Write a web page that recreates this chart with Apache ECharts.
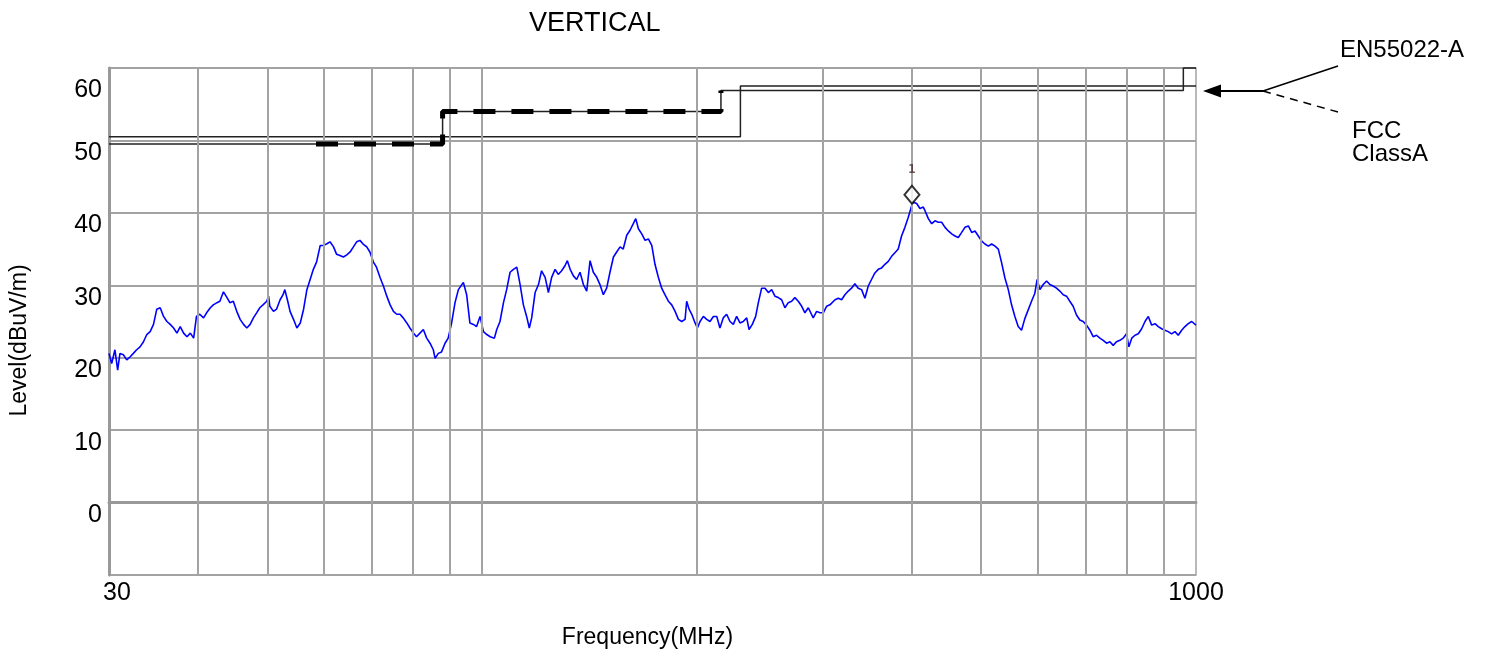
<!DOCTYPE html>
<html>
<head>
<meta charset="utf-8">
<script src="https://cdn.jsdelivr.net/npm/echarts@6/dist/echarts.min.js"></script>
<style>
html,body{margin:0;padding:0;background:#fff;}
#chart{width:1486px;height:649px;}
</style>
</head>
<body>
<div id="chart"></div>
<script>
// ---------- data ----------
const chartTitle = 'VERTICAL';
const xAxisName = 'Frequency(MHz)';
const yAxisName = 'Level(dBuV/m)';

const xTickValues = [30, 1000];
const xTickLabels = ['30', '1000'];
const xGridFreqs = [40, 50, 60, 70, 80, 90, 100, 200, 300, 400, 500, 600, 700, 800, 900];
const yMin = -10, yMax = 60, yStep = 10;
const yTickLabels = ['0', '10', '20', '30', '40', '50', '60'];

// measured trace (frequency MHz / level dBuV/m)
const traceFreq = [
  30.0, 30.26, 30.58, 30.85, 31.08, 31.42, 31.77, 32.1, 32.45, 32.8, 33.16, 33.53, 33.89, 34.26, 34.63,
  35.0, 35.39, 35.77, 36.16, 36.55, 36.95, 37.35, 37.75, 38.16, 38.58, 39.0, 39.42, 39.78, 40.2, 40.7,
  41.1, 41.6, 42.0, 42.5, 42.9, 43.4, 43.9, 44.3, 44.8, 45.3, 45.8, 46.3, 46.8, 47.3, 47.8,
  48.3, 48.8, 49.3, 49.9, 50.2, 50.4, 51.0, 51.5, 52.1, 52.6, 52.9, 53.4, 53.8, 54.4, 55.0,
  55.6, 56.2, 56.8, 57.4, 58.0, 58.6, 59.3, 59.9, 60.5, 61.2, 61.9, 62.5, 63.2, 63.9, 64.6,
  65.3, 66.0, 66.7, 67.4, 68.1, 68.9, 69.6, 70.4, 71.1, 71.9, 72.7, 73.5, 74.3, 75.1, 75.9,
  76.7, 77.5, 78.4, 79.2, 80.1, 80.9, 81.8, 82.7, 83.6, 84.5, 85.4, 85.9, 86.8, 87.7, 88.7,
  89.6, 90.6, 91.6, 92.6, 94.1, 95.1, 96.1, 97.2, 98.2, 99.3, 100.4, 101.5, 102.6, 104.0, 104.8,
  105.9, 107.1, 108.2, 109.4, 110.6, 111.8, 113.0, 114.2, 115.4, 116.4, 117.3, 118.6, 119.9, 121.1, 122.5,
  123.8, 125.1, 126.5, 127.8, 129.2, 130.6, 131.6, 132.8, 134.2, 135.6, 137.1, 138.6, 140.1, 141.6, 143.1,
  144.7, 146.2, 147.8, 149.4, 151.0, 152.7, 154.3, 156.0, 157.6, 159.4, 161.1, 162.8, 164.1, 165.5, 167.3,
  169.1, 170.9, 172.8, 174.6, 176.5, 178.4, 180.3, 182.3, 184.3, 186.3, 188.3, 190.3, 192.4, 193.4, 194.9,
  196.6, 198.7, 200.2, 201.9, 204.1, 206.3, 208.5, 210.8, 213.1, 215.3, 217.6, 220.0, 222.4, 224.8, 227.2,
  229.7, 232.1, 234.7, 236.5, 239.0, 241.6, 243.7, 246.3, 249.0, 251.7, 254.4, 257.1, 259.9, 262.7, 265.5,
  268.4, 271.3, 274.2, 277.2, 280.3, 283.2, 286.3, 290.9, 294.1, 297.3, 300.5, 303.7, 307.0, 312.1, 315.4,
  318.8, 322.2, 325.7, 329.2, 332.7, 336.3, 340.0, 343.7, 347.4, 351.1, 354.9, 358.8, 362.7, 366.6, 370.6,
  374.6, 378.6, 382.7, 386.8, 391.0, 395.3, 399.6, 401.7, 406.1, 410.5, 414.9, 417.2, 421.7, 426.3, 430.9,
  435.5, 440.2, 445.0, 449.8, 454.7, 459.6, 464.5, 469.6, 474.6, 479.8, 485.0, 490.2, 495.5, 500.9, 506.2,
  511.7, 517.3, 522.9, 528.5, 534.2, 539.9, 545.8, 551.6, 557.5, 563.5, 569.6, 575.7, 582.0, 588.3, 594.6,
  599.0, 604.4, 610.9, 617.5, 624.1, 630.8, 637.6, 644.5, 651.5, 658.6, 665.6, 672.8, 680.1, 687.5, 694.9,
  702.5, 710.1, 717.7, 725.5, 733.4, 741.3, 749.4, 757.5, 765.6, 773.8, 782.3, 790.6, 799.2, 805.3, 812.8,
  821.4, 830.2, 839.2, 848.3, 857.4, 866.7, 876.2, 885.4, 895.0, 904.7, 914.3, 924.3, 934.4, 944.4, 954.8,
  965.0, 975.4, 986.2, 1000
];
const traceLevel = [
  20.6, 19.2, 21.1, 18.3, 20.6, 20.4, 19.7, 20.1, 20.6, 21.1, 21.5, 22.2, 23.2, 23.6, 24.6,
  26.7, 26.9, 25.7, 25.0, 24.6, 24.1, 23.4, 24.3, 23.4, 22.9, 23.4, 22.7, 25.7, 26.0, 25.5,
  26.2, 26.9, 27.3, 27.6, 27.8, 29.1, 28.3, 27.6, 27.8, 26.4, 25.3, 24.6, 24.1, 24.6, 25.5,
  26.2, 26.9, 27.3, 27.8, 28.5, 27.1, 26.4, 26.7, 28.0, 28.7, 29.4, 27.8, 26.4, 25.3, 24.1,
  24.8, 26.7, 29.4, 30.8, 32.2, 33.2, 35.5, 35.5, 35.7, 36.0, 35.3, 34.3, 34.1, 33.9, 34.2,
  34.6, 35.3, 36.0, 36.2, 35.7, 35.3, 34.6, 33.2, 32.5, 31.1, 29.9, 28.5, 27.3, 26.4, 26.0,
  26.0, 25.5, 24.8, 24.1, 23.4, 22.9, 23.4, 23.9, 22.7, 22.0, 21.1, 19.9, 20.6, 20.8, 22.0,
  22.7, 24.8, 27.6, 29.4, 30.4, 28.7, 24.8, 24.6, 24.3, 25.7, 23.6, 23.2, 22.9, 22.7, 23.9,
  25.0, 27.6, 29.4, 31.8, 32.2, 32.5, 30.1, 27.3, 25.7, 24.1, 25.5, 29.0, 30.1, 32.0, 31.1,
  29.0, 31.1, 32.2, 31.5, 32.0, 32.7, 33.4, 32.2, 31.3, 30.8, 31.8, 30.1, 29.2, 33.4, 31.8,
  31.1, 30.1, 28.7, 29.6, 31.8, 33.9, 34.6, 35.3, 35.0, 36.9, 37.6, 38.5, 39.2, 37.8, 37.1,
  36.2, 36.4, 35.5, 32.9, 31.1, 29.6, 28.7, 27.8, 27.3, 26.4, 25.3, 25.0, 25.3, 27.8, 26.7,
  26.0, 24.8, 24.1, 25.0, 25.7, 25.3, 25.0, 25.7, 25.7, 24.1, 25.5, 26.0, 25.0, 24.6, 25.7,
  24.8, 25.0, 25.5, 23.9, 24.6, 25.7, 27.6, 29.6, 29.6, 29.0, 29.4, 28.5, 28.3, 28.0, 26.9,
  27.6, 27.8, 28.3, 27.8, 27.1, 26.2, 26.9, 25.5, 26.4, 26.2, 26.2, 27.1, 27.3, 28.0, 28.2,
  28.0, 28.7, 29.2, 29.6, 30.2, 29.6, 29.4, 28.2, 29.9, 30.8, 31.7, 32.2, 32.4, 32.9, 33.3,
  34.0, 34.5, 35.0, 36.8, 38.0, 39.4, 41.0, 41.5, 41.3, 40.6, 40.8, 40.3, 39.2, 38.5, 38.9,
  38.7, 38.7, 38.0, 37.5, 37.1, 36.8, 36.6, 37.3, 38.0, 38.2, 37.3, 37.5, 36.8, 36.1, 35.7,
  35.4, 35.7, 35.4, 35.0, 33.1, 31.0, 29.4, 27.3, 25.7, 24.3, 23.8, 25.4, 26.6, 27.8, 28.9,
  30.8, 29.4, 30.1, 30.6, 30.1, 29.9, 29.6, 29.2, 28.7, 28.5, 27.8, 27.1, 25.9, 25.2, 25.0,
  24.5, 23.8, 22.9, 23.1, 22.7, 22.4, 22.0, 22.2, 21.7, 22.2, 22.4, 22.7, 23.3, 21.5, 22.7,
  23.1, 23.3, 24.0, 25.0, 25.7, 24.5, 24.7, 24.3, 24.0, 23.8, 23.6, 23.3, 23.6, 23.1, 23.8,
  24.3, 24.7, 25.0, 24.5
];

// limit lines
const enName = 'EN55022-A';
const enFreq = [30, 230, 230, 1000];
const enLevel = [50.5, 50.5, 57.5, 57.5];
const fccName = 'FCC ClassA';
const fccFreq = [30, 88, 88, 216, 216, 960, 960, 1000];
const fccLevel = [49.5, 49.5, 54, 54, 56.9, 56.9, 60, 60];
const fccDashFreq = [58.5, 88, 88, 216, 216];
const fccDashLevel = [49.5, 49.5, 54, 54, 56.9];

// marker
const markerFreq = [400];
const markerLevel = [42.5];
const markerLabel = ['1'];

// ---------- chart ----------
const zip = (a, b) => a.map((v, i) => [v, b[i]]);
const FONT = 'Arial, "Liberation Sans", sans-serif';
const GRID_COLOR = '#a3a3a3';

const chart = echarts.init(document.getElementById('chart'), null, {renderer: 'canvas'});
chart.setOption({
  animation: false,
  backgroundColor: '#fff',
  textStyle: {fontFamily: FONT},
  title: {
    text: chartTitle, left: 524, top: 5,
    textStyle: {fontSize: 27, fontWeight: 'normal', color: '#000', fontFamily: FONT}
  },
  grid: {
    left: 109, right: 290, top: 68, bottom: 74, show: true,
    borderColor: GRID_COLOR, borderWidth: 1.5, containLabel: false, outerBoundsMode: 'none'
  },
  xAxis: {
    type: 'log', logBase: 10, min: 30, max: 1000,
    name: xAxisName, nameLocation: 'middle', nameGap: 51,
    nameTextStyle: {fontSize: 23, color: '#000', fontFamily: FONT, padding: [0, 10, 0, 0]},
    axisLine: {show: true, lineStyle: {color: '#999', width: 3}},
    axisTick: {show: false},
    splitLine: {show: false},
    axisLabel: {
      fontSize: 25, color: '#000', margin: 6, fontFamily: FONT,
      showMinLabel: true, showMaxLabel: true,
      formatter: function (v) {
        const i = xTickValues.indexOf(Math.round(v));
        if (i < 0) return '';
        return i === 0 ? '{s|' + xTickLabels[i] + '}' : xTickLabels[i];
      },
      rich: {s: {fontSize: 25, color: '#000', fontFamily: FONT, padding: [0, 0, 0, 16]}}
    }
  },
  yAxis: {
    type: 'value', min: yMin, max: yMax, interval: yStep,
    name: yAxisName, nameLocation: 'middle', nameGap: 78, nameRotate: 90,
    nameTextStyle: {fontSize: 23, color: '#000', fontFamily: FONT, padding: [0, 38, 0, 0]},
    axisLine: {show: true, lineStyle: {color: '#999', width: 3}},
    axisTick: {show: false},
    splitLine: {show: true, lineStyle: {color: GRID_COLOR, width: 2}},
    axisLabel: {
      color: '#000', fontSize: 25, margin: 7, verticalAlign: 'top', fontFamily: FONT,
      formatter: function (v) {
        const lbl = String(v);
        if (yTickLabels.indexOf(lbl) < 0) return '';
        return v === yMax ? '{t|' + lbl + '}' : '{n|' + lbl + '}';
      },
      rich: {
        t: {fontSize: 25, color: '#000', fontFamily: FONT, padding: [10, 0, 0, 0]},
        n: {fontSize: 25, color: '#000', fontFamily: FONT, padding: [0, 0, 0, 0]}
      }
    }
  },
  graphic: [
    {type: 'line', shape: {x1: 1263, y1: 91, x2: 1218, y2: 91}, style: {stroke: '#000', lineWidth: 2}},
    {type: 'polygon', shape: {points: [[1203, 91], [1221, 84.5], [1221, 97.5]]}, style: {fill: '#000'}},
    {type: 'line', shape: {x1: 1263, y1: 91, x2: 1338, y2: 66}, style: {stroke: '#000', lineWidth: 1.5}},
    {type: 'line', shape: {x1: 1263, y1: 91, x2: 1338, y2: 112}, style: {stroke: '#000', lineWidth: 1.5, lineDash: [8, 6]}},
    {type: 'text', left: 1340, top: 38, style: {text: enName, font: '24px ' + FONT, fill: '#000'}},
    {type: 'text', left: 1352, top: 119, style: {text: 'FCC\nClassA', font: '24px ' + FONT, fill: '#000', lineHeight: 23}}
  ],
  series: [
    {
      type: 'line', name: 'grid', data: [], z: 1, silent: true,
      markLine: {
        silent: true, symbol: ['none', 'none'], label: {show: false},
        lineStyle: {color: GRID_COLOR, width: 2, type: 'solid'},
        emphasis: {disabled: true},
        data: xGridFreqs.map(f => ({xAxis: f}))
      }
    },
    {
      type: 'line', name: 'trace', data: zip(traceFreq, traceLevel), z: 3,
      showSymbol: false, symbol: 'none',
      lineStyle: {color: '#0000ff', width: 1.6}
    },
    {
      type: 'line', name: enName, data: zip(enFreq, enLevel), z: 4, clip: false,
      showSymbol: false, symbol: 'none',
      lineStyle: {color: '#222', width: 1.5}
    },
    {
      type: 'line', name: fccName, data: zip(fccFreq, fccLevel), z: 4, clip: false,
      showSymbol: false, symbol: 'none',
      lineStyle: {color: '#222', width: 1.5}
    },
    {
      type: 'line', name: fccName + ' dash', data: zip(fccDashFreq, fccDashLevel), z: 5, clip: false,
      showSymbol: false, symbol: 'none',
      lineStyle: {color: '#000', width: 5, type: [22, 16], cap: 'butt'}
    },
    {
      type: 'scatter', name: 'marker', data: zip(markerFreq, markerLevel), z: 6,
      symbol: 'diamond', symbolSize: [15, 18],
      itemStyle: {color: '#fff', borderColor: '#000', borderWidth: 2},
      label: {
        show: true, position: 'top', distance: 9,
        formatter: function (p) { return markerLabel[p.dataIndex]; },
        fontSize: 12, fontWeight: 'bold', color: '#4a2a2a', fontFamily: '"DejaVu Sans Mono", monospace'
      }
    }
  ]
});
</script>
</body>
</html>
